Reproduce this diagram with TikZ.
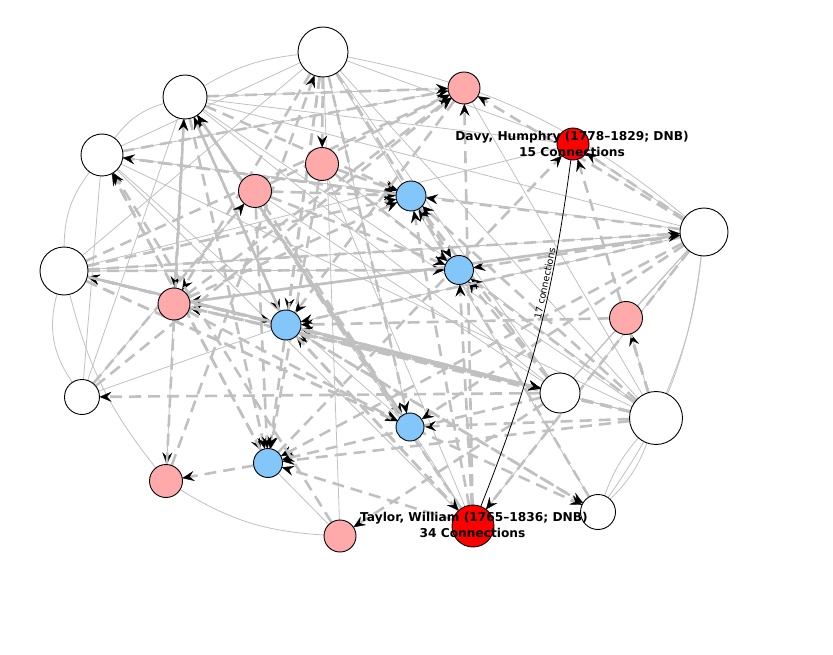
\documentclass[tikz,border=0pt]{standalone}
\usepackage{fontspec}
\newfontfamily\lblfont{DejaVu Sans}
\usetikzlibrary{arrows.meta}
\definecolor{pinkn}{RGB}{255,170,170}
\definecolor{bluen}{RGB}{130,198,250}
\definecolor{redn}{RGB}{255,0,0}
\definecolor{edgeg}{RGB}{192,192,192}
\pgfdeclarelayer{bg}
\pgfdeclarelayer{mid}
\pgfsetlayers{bg,mid,main}
\begin{document}
\begin{tikzpicture}[x=1pt,y=-1pt,
  nd/.style={circle,draw=black,line width=0.9pt,inner sep=0pt,outer sep=0pt,minimum size=2*#1},
  wn/.style={nd=#1,fill=white},
  pn/.style={nd=#1,fill=pinkn},
  bn/.style={nd=#1,fill=bluen},
  rn/.style={nd=#1,fill=redn},
  sol/.style={draw=edgeg,line width=0.8pt},
  tipb/.style={-{Stealth[length=12pt,width=10pt,inset=4.5pt,color=black,line width=0.4pt]}},
  sola/.style={sol,tipb},
  dsh/.style={draw=edgeg,line width=2.6pt,dash pattern=on 12pt off 7pt,tipb},
  lbl/.style={font=\lblfont\bfseries\fontsize{12.2}{14}\selectfont,inner sep=0pt,anchor=base},
  elbl/.style={font=\lblfont\fontsize{9.5}{11}\selectfont,inner sep=1.5pt}
]
\useasboundingbox (0,0) rectangle (833,655);
% nodes
\node[wn=25] (w1) at (323,52) {};
\node[wn=22] (w2) at (185,97) {};
\node[wn=21] (w3) at (102,155) {};
\node[wn=24] (w4) at (64,271) {};
\node[wn=17.5] (w5) at (82,397) {};
\node[wn=24] (w6) at (704,232) {};
\node[wn=20] (w7) at (560,393) {};
\node[wn=26.5] (w8) at (656,418) {};
\node[wn=17.5] (w9) at (598,512) {};
\node[pn=16] (p1) at (464,88) {};
\node[pn=16.5] (p2) at (322,164) {};
\node[pn=16.5] (p3) at (255,191) {};
\node[pn=16] (p4) at (174,304) {};
\node[pn=16.5] (p5) at (626,318) {};
\node[pn=16.5] (p6) at (166,481) {};
\node[pn=16] (p7) at (340,536) {};
\node[rn=16] (r1) at (573,144) {};
\node[rn=21] (r2) at (473,526) {};
\node[bn=15] (b1) at (411,196) {};
\node[bn=14.5] (b2) at (459,270) {};
\node[bn=15] (b3) at (286,325) {};
\node[bn=14] (b4) at (410,427) {};
\node[bn=14.5] (b5) at (268,463) {};

\begin{pgfonlayer}{bg}
% thin solid connections
\draw[sol] (w1) to[bend right=12] (w2);
\draw[sol] (w2) to[bend right=18] (w3);
\draw[sol] (w3) to[bend right=18] (w4);
\draw[sol] (w4) to[bend right=25] (w5);
\draw[sol] (w4) to[bend right=12] (p6);
\draw[sol] (w1) to[bend left=14] (w6);
\draw[sol] (p6) to[bend right=14] (p7);
\draw[sol] (w6) to[bend left=8] (w8);
\draw[sol] (w6) to[bend left=14] (w9);
\draw[sol] (w8) to[bend left=12] (w9);
\draw[sol] (w8) to[bend right=10] (w9);
\foreach \a/\b in {w1/w3,w1/w4,w1/r1,w1/w7,w1/w8,w1/b4,w1/p7,
  w2/w6,w2/w7,w2/w8,w2/r2,w2/p1,w2/r1,
  w3/w6,w3/w8,w3/p1,w3/b4,w3/r2,w3/w5,
  w4/w6,w4/w7,w4/w8,w4/r1,w4/b2,
  w5/w2,w5/p3,w5/b3,
  w6/p5,w6/w7,w6/r1,w6/r2,w6/b3,
  w8/p5,w8/p1,w8/b3,w7/p5,
  b5/p7,b4/r2,p3/w7,p2/w8,p2/r2,w9/w1}
  \draw[sol] (\a) -- (\b);
\draw[sola] (p4) -- (p6);
% dashed directed connections
\foreach \a/\b in {w4/b1,w3/b1,w2/b1,p3/b1,p2/b1,w6/b1,w8/b1,r2/b1,w7/b1,p4/b1,w9/b1,
  w4/b2,p3/b2,w6/b2,w8/b2,w7/b2,r2/b2,w1/b2,p2/b2,
  w1/b3,w4/b3,w6/b3,w8/b3,w7/b3,r2/b3,p5/b3,w9/b3,w2/b3,p1/b3,
  w4/b4,p4/b4,w6/b4,w8/b4,w2/b4,w1/b4,p3/b4,
  w2/b5,w1/b5,p2/b5,w3/b5,w8/b5,w7/b5,r2/b5,w6/b5,p3/b5,
  w4/p1,w3/p1,p4/p1,w2/p1,r2/p1,w5/p1,w6/p1,p3/p1,
  w1/p2,w5/p3,w2/p4,w1/p4,w6/p4,w8/p4,w7/p4,w8/p5,b5/p6,w7/p7,p6/w1,
  b3/w2,b4/w2,r2/w2,p6/w2,b1/w3,b5/w3,p7/w3,
  w7/w4,w8/w4,b3/w4,w7/w5,p4/w6,w4/w6,p4/w7,b3/w7,w4/w7,
  b3/w9,w4/w9,b5/r1,w8/r1,w6/r1,b3/r2,w6/r2}
  \draw[dsh] (\a) -- (\b);
\end{pgfonlayer}

\begin{pgfonlayer}{mid}
\draw[black,line width=0.8pt] (r2) to[bend right=7]
  node[elbl,sloped,above,pos=0.66] (el) {17 connections} (r1);
\end{pgfonlayer}

\node[lbl] (dl1) at (572,140.5) {Davy, Humphry (1778–1829; DNB)};
\node[lbl] (dl2) at (572,156.5) {15 Connections};
\node[lbl] (tl1) at (474,521.5) {Taylor, William (1765–1836; DNB)};
\node[lbl] (tl2) at (472.5,537.5) {34 Connections};
\end{tikzpicture}
\end{document}
